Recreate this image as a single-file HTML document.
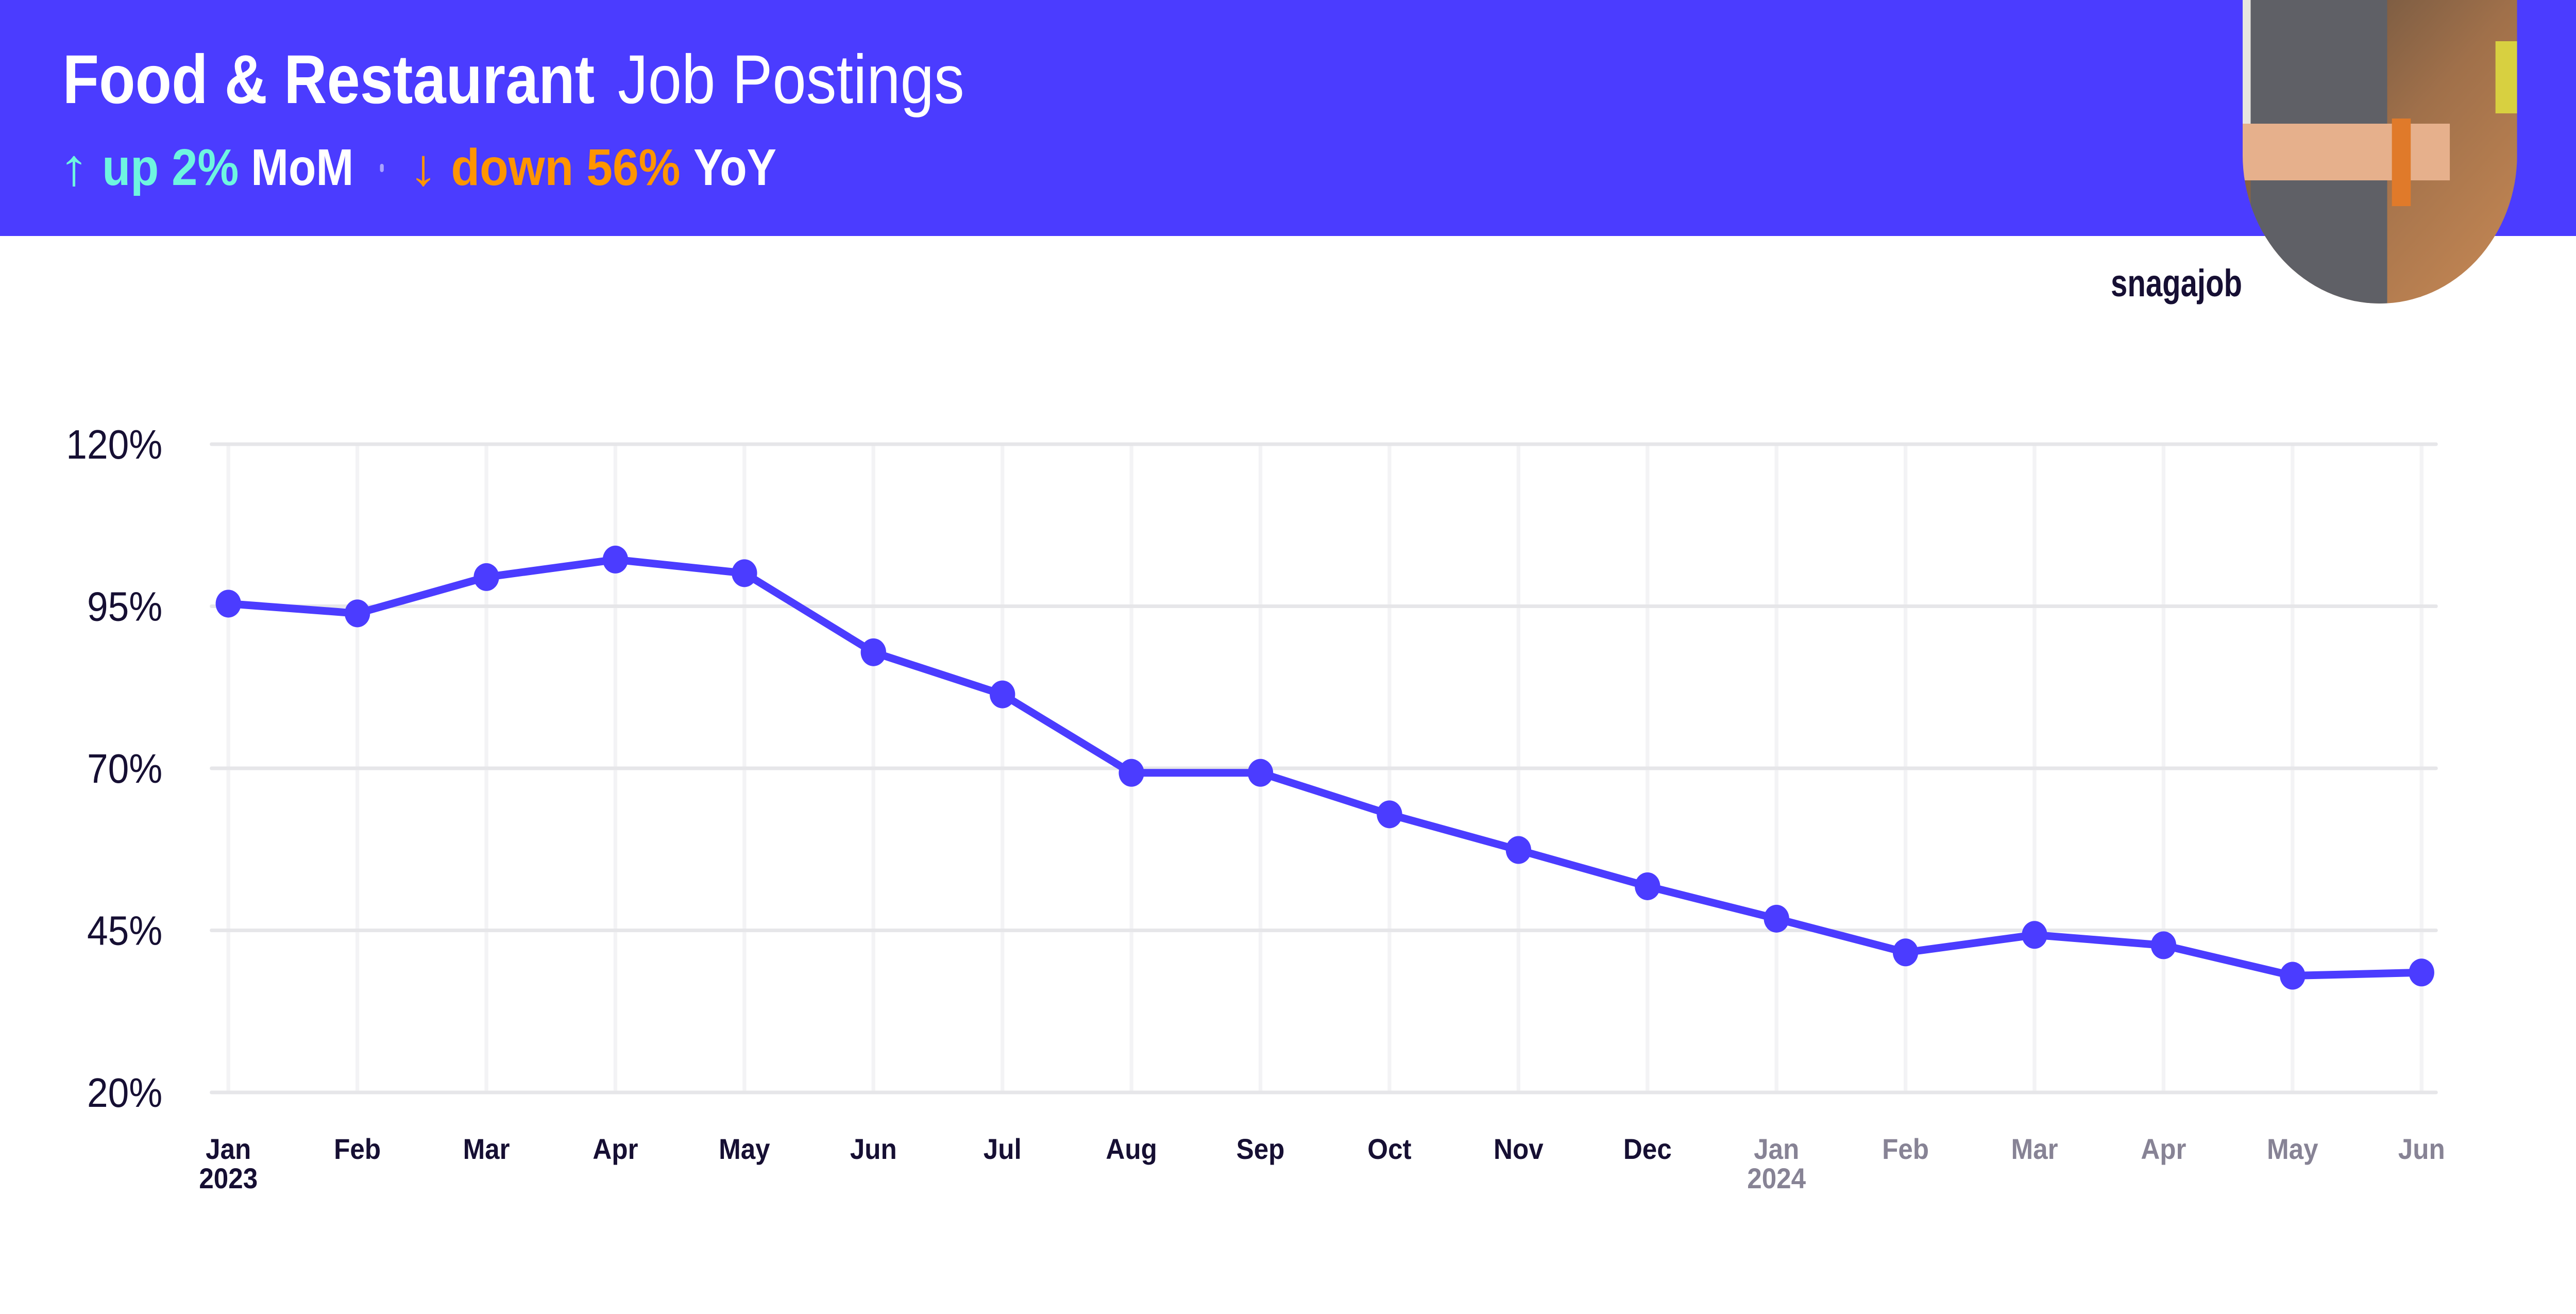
<!DOCTYPE html>
<html>
<head>
<meta charset="utf-8">
<style>
  html,body{margin:0;padding:0;background:#fff;width:100%;height:100%;overflow:hidden;}
  body{font-family:"Liberation Sans",sans-serif;}
  svg{display:block;width:100vw;height:100vh;}
</style>
</head>
<body>
<svg id="chart" viewBox="0 0 5471 2550" preserveAspectRatio="none" xmlns="http://www.w3.org/2000/svg">
  <defs>
    <clipPath id="ovalClip">
      <path d="M4763 0 H5346 V300 A291.5 289 0 0 1 4763 300 Z"/>
    </clipPath>
    <linearGradient id="bgGrad" x1="0" y1="0" x2="1" y2="1">
      <stop offset="0" stop-color="#5a4a3c"/>
      <stop offset="0.5" stop-color="#a0704a"/>
      <stop offset="1" stop-color="#c98a55"/>
    </linearGradient>
  </defs>
  <rect x="0" y="0" width="5471" height="458" fill="#4b3cff"/>
  <text x="133" y="200" font-size="134" font-weight="bold" fill="#fff" textLength="1130" lengthAdjust="spacingAndGlyphs">Food &amp; Restaurant</text>
  <text x="1312" y="200" font-size="134" fill="#fff" textLength="736" lengthAdjust="spacingAndGlyphs">Job Postings</text>
  <g font-size="100" font-weight="bold">
    <text x="124" y="359" fill="#6ef5e0" font-weight="normal" textLength="66" lengthAdjust="spacingAndGlyphs">↑</text>
    <text x="217" y="359" fill="#6ef5e0" textLength="290" lengthAdjust="spacingAndGlyphs">up 2%</text>
    <text x="533" y="359" fill="#fff" textLength="218" lengthAdjust="spacingAndGlyphs">MoM</text>
    <rect x="807" y="318" width="8" height="16" rx="4" fill="#a9a3ff"/>
    <text x="868" y="359" fill="#ff9500" font-weight="normal" textLength="62" lengthAdjust="spacingAndGlyphs">↓</text>
    <text x="958" y="359" fill="#ff9500" textLength="487" lengthAdjust="spacingAndGlyphs">down 56%</text>
    <text x="1473" y="359" fill="#fff" textLength="176" lengthAdjust="spacingAndGlyphs">YoY</text>
  </g>
  <g clip-path="url(#ovalClip)">
    <rect x="4763" y="0" width="583" height="600" fill="url(#bgGrad)"/>
    <rect x="4763" y="0" width="140" height="260" fill="#e8e6e0"/>
    <rect x="4780" y="0" width="290" height="600" fill="#5f6066"/>
    <rect x="4763" y="240" width="440" height="110" fill="#e6b08c"/>
    <rect x="5080" y="230" width="40" height="170" fill="#e07a2a"/>
    <rect x="5300" y="80" width="46" height="140" fill="#d8d040"/>
  </g>
  <text x="4483" y="575" font-size="74" font-weight="bold" fill="#160f33" textLength="279" lengthAdjust="spacingAndGlyphs">snagajob</text>
  <g id="grid"></g>
  <g id="yaxis"></g>
  <g id="xaxis"></g>
  <g id="series"></g>
</svg>
<script>
const months = ["Jan","Feb","Mar","Apr","May","Jun","Jul","Aug","Sep","Oct","Nov","Dec","Jan","Feb","Mar","Apr","May","Jun"];
const years = ["2023","","","","","","","","","","","","2024","","","","",""];
const values = [95.4,93.9,99.5,102.2,100.1,87.9,81.4,69.3,69.3,62.9,57.4,51.8,46.8,41.6,44.3,42.7,38.0,38.5];
const yTicks = [20,45,70,95,120];
const yTickLabels = ["20%","45%","70%","95%","120%"];

const NS = "http://www.w3.org/2000/svg";
const X0 = 485, XSTEP = 274, YMIN = 20, YMAX = 120, YTOP = 862, YBOT = 2120;
function xScale(i){ return X0 + i*XSTEP; }
function yScale(v){ return YBOT - (v-YMIN)/(YMAX-YMIN)*(YBOT-YTOP); }
function mk(tag, attrs, parent){
  const el = document.createElementNS(NS, tag);
  for (const k in attrs) el.setAttribute(k, attrs[k]);
  parent.appendChild(el);
  return el;
}
const grid = document.getElementById('grid');
const yaxis = document.getElementById('yaxis');
const xaxis = document.getElementById('xaxis');
const series = document.getElementById('series');

months.forEach((m,i)=>{
  const l = mk('line',{x1:xScale(i),x2:xScale(i),y1:YTOP,y2:YBOT,stroke:'#f3f3f5','stroke-width':8},grid);
  
  
});
yTicks.forEach((t,i)=>{
  const l = mk('line',{x1:449,x2:5174,y1:yScale(t),y2:yScale(t),stroke:'#e6e6e9','stroke-width':7,'stroke-linecap':'round'},grid);
  
  
  const tx = mk('text',{x:345,y:yScale(t)+28,'text-anchor':'end','font-size':80,fill:'#160f33'},yaxis);
  
  
  tx.textContent = yTickLabels[i];
});
months.forEach((m,i)=>{
  const col = i>=12 ? '#878395' : '#160f33';
  const tx = mk('text',{x:xScale(i),y:2249,'text-anchor':'middle','font-size':56,'font-weight':'bold',fill:col},xaxis);
  
  
  tx.textContent = m;
  if (years[i]) {
    const ty = mk('text',{x:xScale(i),y:2306,'text-anchor':'middle','font-size':56,'font-weight':'bold',fill:col},xaxis);
    
    
    ty.textContent = years[i];
  }
});
const pts = values.map((v,i)=>xScale(i)+','+yScale(v)).join(' ');
const pl = mk('polyline',{points:pts,fill:'none',stroke:'#4b3cff','stroke-width':15,'stroke-linejoin':'round'},series);


values.forEach((v,i)=>{
  const c = mk('circle',{cx:xScale(i),cy:yScale(v),r:27,fill:'#4b3cff'},series);
  
  
});
</script>
</body>
</html>
